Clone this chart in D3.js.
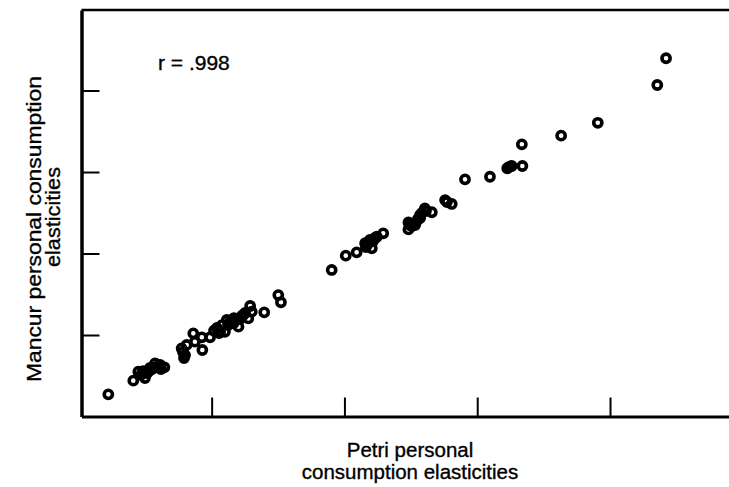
<!DOCTYPE html>
<html>
<head>
<meta charset="utf-8">
<script src="https://cdn.jsdelivr.net/npm/d3@7"></script>
<style>
  html, body { margin: 0; padding: 0; background: #fff; }
  svg { display: block; }
  text { font-family: "Liberation Sans", Arial, Helvetica, sans-serif; fill: #000; stroke: #000; stroke-width: 0.35; }
</style>
</head>
<body>
<svg id="chart" width="729" height="487"></svg>
<script>
// Petri (x) vs Mancur (y) personal consumption elasticities
const petri = [
  0.111, 0.205, 0.224, 0.249, 0.262, 0.287, 0.299, 0.322, 0.387, 0.400,
  0.406, 0.431, 0.437, 0.463, 0.465, 0.494, 0.509, 0.532, 0.550, 0.557,
  0.582, 0.595, 0.601, 0.619, 0.638, 0.645, 0.651, 0.698, 0.751, 0.761,
  0.952, 1.005, 1.046, 1.078, 1.096, 1.103, 1.122, 1.146, 1.241, 1.241,
  1.266, 1.285, 1.303, 1.329, 1.379, 1.404, 1.454, 1.548, 1.613, 1.630,
  1.670, 1.668, 1.816, 1.954, 2.178, 2.211,
  0.234, 0.257, 0.276, 0.306, 0.392, 0.396, 0.520, 0.539, 0.569, 0.607,
  0.626, 1.088, 1.108, 1.254, 1.277, 1.292, 1.386, 1.620,
  0.242, 0.268, 0.291, 0.309, 0.562, 0.584, 0.614, 0.528, 1.081, 1.115,
  1.247, 1.270, 1.285, 1.307
];
const mancur = [
  0.136, 0.220, 0.275, 0.236, 0.275, 0.326, 0.302, 0.302, 0.418, 0.377,
  0.439, 0.510, 0.459, 0.486, 0.408, 0.486, 0.526, 0.520, 0.520, 0.592,
  0.572, 0.596, 0.551, 0.623, 0.602, 0.678, 0.643, 0.639, 0.745, 0.701,
  0.899, 0.987, 1.007, 1.063, 1.083, 1.032, 1.103, 1.124, 1.191, 1.148,
  1.175, 1.236, 1.277, 1.253, 1.328, 1.304, 1.455, 1.471, 1.523, 1.537,
  1.537, 1.670, 1.723, 1.802, 2.034, 2.198,
  0.255, 0.267, 0.291, 0.316, 0.396, 0.359, 0.543, 0.561, 0.580, 0.598,
  0.635, 1.058, 1.077, 1.169, 1.212, 1.249, 1.316, 1.531,
  0.279, 0.298, 0.304, 0.291, 0.561, 0.604, 0.617, 0.512, 1.040, 1.095,
  1.175, 1.193, 1.218, 1.261
];
const xTicks = [0.5, 1.0, 1.5, 2.0];
const yTicks = [0.5, 1.0, 1.5, 2.0];
const corrLabel = "r = .998";
const xTitle = ["Petri personal", "consumption elasticities"];
const yTitle = ["Mancur personal consumption", "elasticities"];
const yTitleLength = [306, 100];

const svg = d3.select("#chart");

const x = d3.scaleLinear().domain([0.01, 2.448]).range([81.5, 729]);
const y = d3.scaleLinear().domain([0, 2.494]).range([416.5, 10]);

// inward ticks, no tick labels
const xAxis = d3.axisBottom(x).tickValues(xTicks).tickFormat("").tickSizeInner(-19).tickSizeOuter(0);
const yAxis = d3.axisLeft(y).tickValues(yTicks).tickFormat("").tickSizeInner(-18).tickSizeOuter(0);

const gx = svg.append("g").attr("transform", `translate(0,${y(0)})`).call(xAxis);
gx.select(".domain").attr("stroke-width", 3);
gx.selectAll(".tick line").attr("stroke-width", 2);

const gy = svg.append("g").attr("transform", `translate(${x.range()[0]},0)`).call(yAxis);
gy.select(".domain").attr("stroke-width", 3.5);
gy.selectAll(".tick line").attr("stroke-width", 2);

// top frame line
svg.append("line")
  .attr("x1", x.range()[0]).attr("x2", x.range()[1])
  .attr("y1", y.range()[1]).attr("y2", y.range()[1])
  .attr("stroke", "#000").attr("stroke-width", 2.5);

// open-circle markers (unfilled, so overlapping rings merge)
svg.append("g").selectAll("circle")
  .data(petri.map((v, i) => [v, mancur[i]]))
  .join("circle")
  .attr("cx", d => x(d[0]))
  .attr("cy", d => y(d[1]))
  .attr("r", 4.1)
  .attr("fill", "none")
  .attr("stroke", "#000")
  .attr("stroke-width", 3.6);

// correlation note
svg.append("text")
  .attr("x", 158).attr("y", 70)
  .attr("font-size", 21)
  .text(corrLabel);

// x-axis title
svg.append("g").selectAll("text")
  .data(xTitle)
  .join("text")
  .attr("x", 410)
  .attr("y", (d, i) => 457 + i * 22)
  .attr("text-anchor", "middle")
  .attr("font-size", 20.5)
  .text(d => d);

// y-axis title
svg.append("g").selectAll("text")
  .data(yTitle)
  .join("text")
  .attr("transform", (d, i) => `translate(${41 + i * 19},${i === 0 ? 229 : 217}) rotate(-90)`)
  .attr("text-anchor", "middle")
  .attr("font-size", 20.5)
  .attr("textLength", (d, i) => yTitleLength[i])
  .attr("lengthAdjust", "spacingAndGlyphs")
  .text(d => d);
</script>
</body>
</html>
